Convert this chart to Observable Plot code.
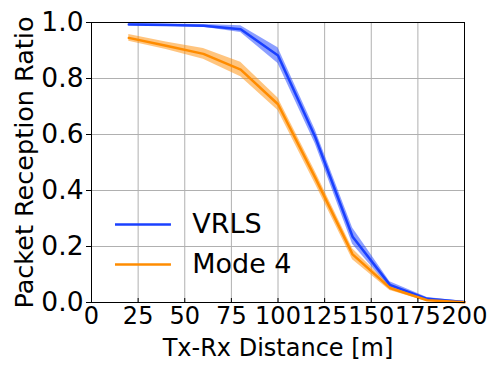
<!DOCTYPE html>
<html>
<head>
<meta charset="utf-8">
<script src="https://cdn.jsdelivr.net/npm/d3@7"></script>
<script src="https://cdn.jsdelivr.net/npm/@observablehq/plot@0.6"></script>
<style>
  html, body { margin: 0; padding: 0; background: #fff; }
</style>
</head>
<body>
<div id="chart"></div>
<script>
const distances = [20, 40, 60, 80, 100, 120, 140, 160, 180, 200];
const vrlsMean  = [0.993, 0.991, 0.988, 0.976, 0.882, 0.590, 0.235, 0.063, 0.013, 0.002];
const vrlsLow   = [0.989, 0.987, 0.983, 0.964, 0.854, 0.566, 0.208, 0.052, 0.008, 0.000];
const vrlsHigh  = [0.997, 0.995, 0.993, 0.988, 0.910, 0.616, 0.266, 0.074, 0.018, 0.004];
const mode4Mean = [0.945, 0.917, 0.888, 0.832, 0.708, 0.445, 0.172, 0.052, 0.008, 0.001];
const mode4Low  = [0.933, 0.904, 0.869, 0.806, 0.686, 0.423, 0.153, 0.043, 0.004, 0.000];
const mode4High = [0.957, 0.930, 0.907, 0.858, 0.730, 0.467, 0.192, 0.061, 0.012, 0.002];
const seriesNames = ["VRLS", "Mode 4"];
const xTicks = [0, 25, 50, 75, 100, 125, 150, 175, 200];
const yTicks = [0, 0.2, 0.4, 0.6, 0.8, 1.0];
const xLabel = "Tx-Rx Distance [m]";
const yLabel = "Packet Reception Ratio";

const colors = {"VRLS": "#1a40ff", "Mode 4": "#ff8c00"};
const rows = [];
distances.forEach((d, i) => {
  rows.push({series: "VRLS", x: d, y: vrlsMean[i], lo: vrlsLow[i], hi: vrlsHigh[i]});
  rows.push({series: "Mode 4", x: d, y: mode4Mean[i], lo: mode4Low[i], hi: mode4High[i]});
});
const byS = s => rows.filter(r => r.series === s);

const legendRows = [
  {name: seriesNames[0], y: 0.279},
  {name: seriesNames[1], y: 0.136}
];

const font = "DejaVu Sans, sans-serif";
const plot = Plot.plot({
  width: 498,
  height: 374,
  marginLeft: 91,
  marginRight: 34,
  marginTop: 22,
  marginBottom: 72,
  style: {fontFamily: font, background: "#fff", color: "#000", overflow: "visible"},
  x: {domain: [0, 200]},
  y: {domain: [0, 1]},
  marks: [
    Plot.gridX(xTicks, {stroke: "#b0b0b0", strokeOpacity: 1, strokeWidth: 1}),
    Plot.gridY(yTicks, {stroke: "#b0b0b0", strokeOpacity: 1, strokeWidth: 1}),
    ...seriesNames.map(s => Plot.areaY(byS(s), {x: "x", y1: "lo", y2: "hi", fill: colors[s], fillOpacity: 0.5})),
    ...seriesNames.map(s => Plot.lineY(byS(s), {x: "x", y: "y", stroke: colors[s], strokeWidth: 2.5})),
    Plot.frame({stroke: "#000", strokeWidth: 1}),
    Plot.axisX(xTicks, {tickSize: 5, tickPadding: 3, dy: -4, fontSize: 24, label: null, tickFormat: d => String(d)}),
    Plot.axisY(yTicks, {tickSize: 5, tickPadding: 3, fontSize: 26.5, label: null, tickFormat: d => d.toFixed(1)}),
    Plot.text([xLabel], {frameAnchor: "bottom", dy: 53, fontSize: 24, fill: "#000", text: d => d}),
    Plot.text([yLabel], {frameAnchor: "left", textAnchor: "middle", dx: -67, rotate: -90, fontSize: 25.5, fill: "#000", text: d => d}),
    Plot.link(legendRows, {x1: 12.6, x2: 42.6, y1: "y", y2: "y", stroke: d => colors[d.name], strokeWidth: 2.5}),
    Plot.text(legendRows, {x: 54, y: "y", text: "name", textAnchor: "start", fontSize: 27, fill: "#000"})
  ]
});
document.getElementById("chart").appendChild(plot);
</script>
</body>
</html>
